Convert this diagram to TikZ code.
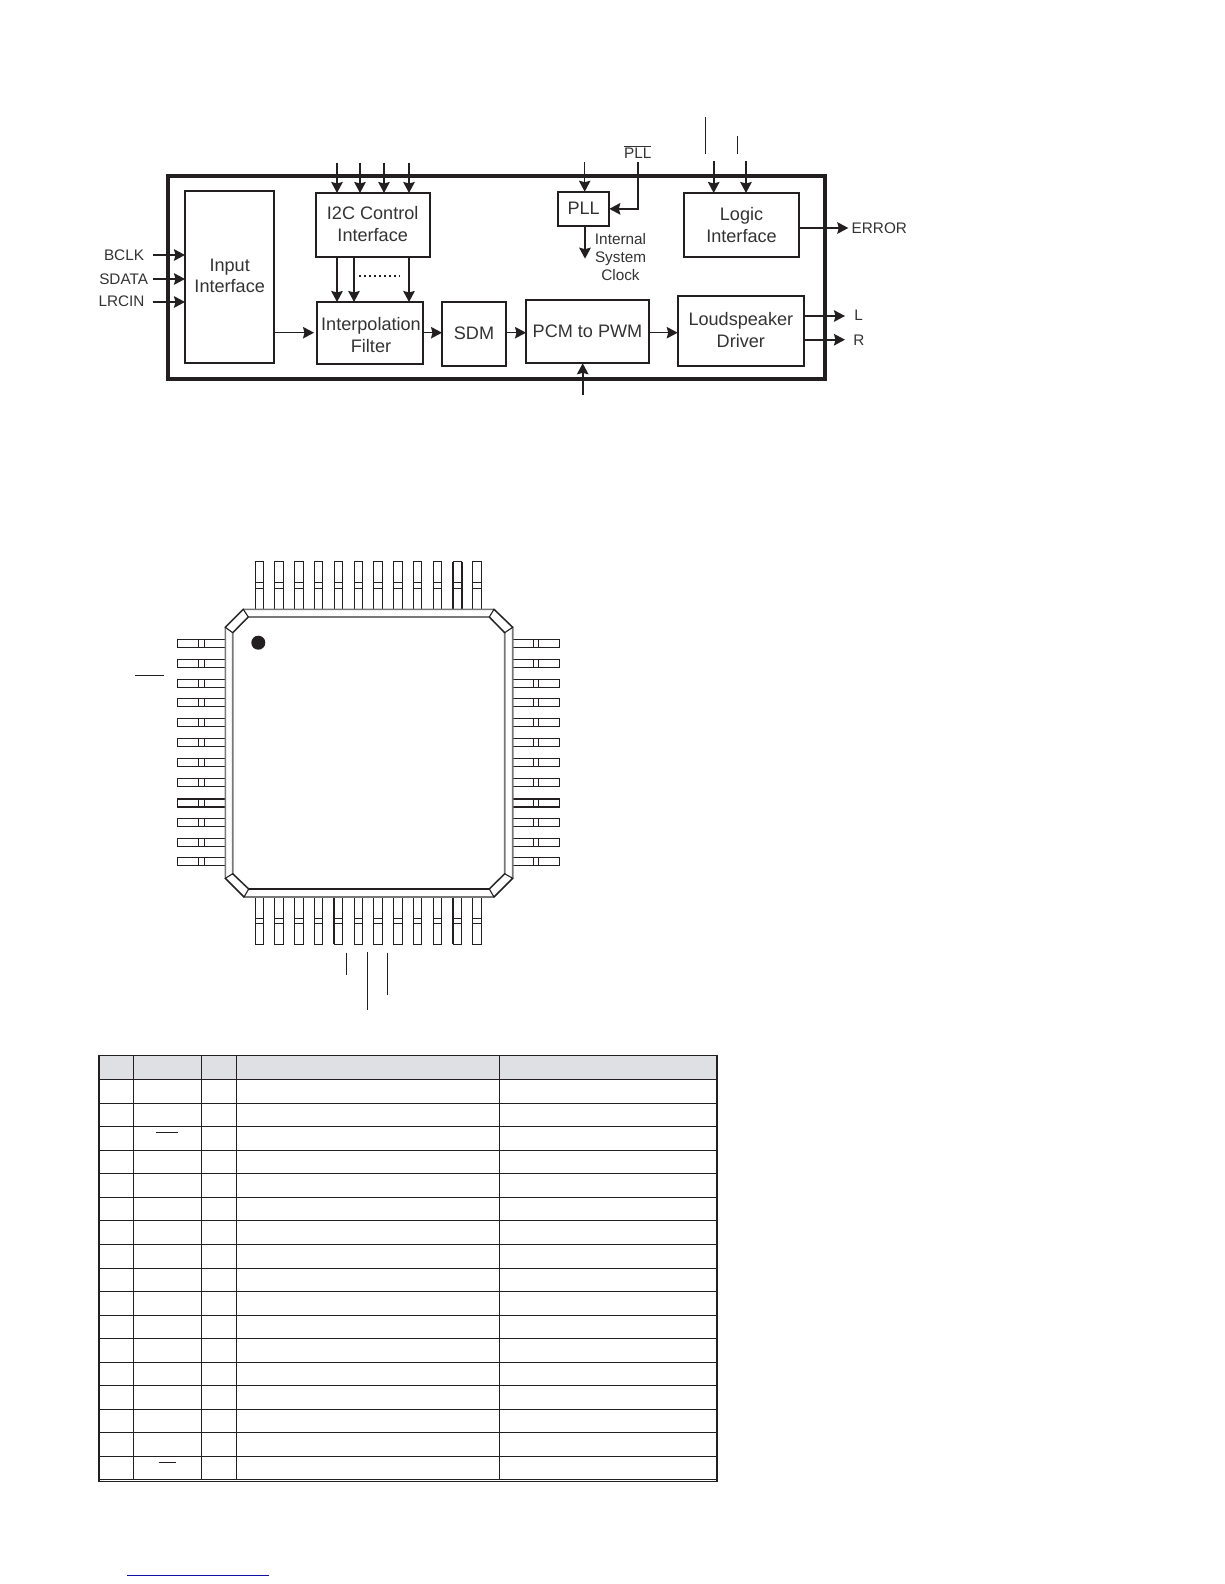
\documentclass[tikz,border=0pt]{standalone}
\usepackage{fontspec}
\setmainfont{Liberation Sans}
\usetikzlibrary{arrows.meta}
\definecolor{ink}{HTML}{231F20}
\definecolor{txt}{HTML}{333333}
\definecolor{pkg}{HTML}{777777}
\definecolor{headfill}{HTML}{DFE0E3}
\definecolor{linkblue}{HTML}{1010A0}
\tikzset{
  x=1pt,y=-1pt,
  box/.style={draw=ink,line width=1.8pt,inner sep=0pt,outer sep=0pt,align=center,text=txt,
    font=\fontsize{18.1}{21.7}\selectfont},
  boxtext/.style={inner sep=0pt,outer sep=0pt,align=center,text=txt,
    font=\fontsize{18.1}{21.7}\selectfont},
  small/.style={inner sep=0pt,outer sep=0pt,align=center,text=txt,font=\fontsize{15.3}{18}\selectfont},
  arrT/.style={draw=ink,line width=1.9pt,-{Stealth[length=11pt,width=11.5pt,inset=1.5pt]}},
  arrN/.style={draw=ink,line width=1.2pt,-{Stealth[length=11pt,width=11.5pt,inset=1.5pt]}},
  plain/.style={draw=ink,line width=1.2pt},
  pin/.style={draw=ink,line width=1pt,fill=white},
  grid/.style={draw=ink,line width=1.2pt},
}
\begin{document}
\begin{tikzpicture}
\useasboundingbox (0,0) rectangle (1224,1584);
\fill[white] (0,0) rectangle (1224,1584);

% ---------- block diagram ----------
\node[draw=ink,line width=3.8pt,inner sep=0pt,outer sep=0pt,minimum width=657pt,minimum height=203.3pt] (chip) at (496.5,277.65) {};
\node[box,minimum width=89pt,minimum height=171.8pt] (input) at (229.5,277) {};
\node[boxtext] (inputtext) at (229.7,275.8) {Input\\Interface};
\node[box,minimum width=114.3pt,minimum height=64pt] (i2c) at (372.85,225) {};
\node[boxtext] (i2ctext) at (372.7,224) {I2C Control\\Interface};
\node[box,minimum width=106pt,minimum height=62pt] (interp) at (370,333) {};
\node[boxtext] (interptext) at (371,335) {Interpolation\\Filter};
\node[box,minimum width=64pt,minimum height=64pt] (sdm) at (474,334) {};
\node[boxtext] (sdmtext) at (474,333) {SDM};
\node[box,minimum width=123pt,minimum height=63.3pt] (pcm) at (587.5,331.65) {PCM to PWM};
\node[box,minimum width=126.3pt,minimum height=70pt] (ls) at (740.85,331) {};
\node[boxtext] (lstext) at (740.85,330) {Loudspeaker\\Driver};
\node[box,minimum width=115pt,minimum height=64pt] (logic) at (741.5,225) {Logic\\Interface};
\node[box,minimum width=51.3pt,minimum height=34.3pt] (pll) at (583.65,208.85) {};
\node[boxtext] (plltext) at (583.65,207.8) {PLL};

\node[small,anchor=east] (bclk) at (144,255) {BCLK};
\node[small,anchor=east] (sdata) at (148,279) {SDATA};
\node[small,anchor=east] (lrcin) at (144.5,301.5) {LRCIN};
\node[small,anchor=west] (err) at (851.7,228) {ERROR};
\node[small,anchor=west] (lout) at (854.3,315.5) {L};
\node[small,anchor=west] (rout) at (853.3,340) {R};
\node[small] (clk) at (620.5,257) {Internal\\System\\Clock};
\node[small,anchor=base] (pllbar) at (637.7,158) {$\overline{\mbox{PLL}}$};

\coordinate (a1) at (152.7,255);
\coordinate (a2) at (152.7,279);
\coordinate (a3) at (152.7,302);
\draw[arrT] (a1) -- (a1 -| input.west);
\draw[arrT] (a2) -- (a2 -| input.west);
\draw[arrT] (a3) -- (a3 -| input.west);

\foreach \n/\xx in {c1/337,c2/360,c3/384,c4/409}{
  \coordinate (\n) at (\xx,162.7);
  \draw[arrT] (\n) -- (\n |- i2c.north);
}
\foreach \n/\xx in {d1/337,d2/354,d3/409}{
  \coordinate (\n) at (\xx,257);
  \draw[arrT] (\n) -- (\n |- interp.north);
}
\coordinate (dotsa) at (359,276);
\coordinate (dotsb) at (400,276);
\draw[ink,line width=1.4pt,dash pattern=on 1.5pt off 3.5pt] (dotsa) -- (dotsb);

\coordinate (m1) at (274,332.7);
\coordinate (m1end) at (314,332.7);
\draw[arrN] (m1) -- (m1end);
\draw[arrN] (interp.east |- m1) -- (sdm.west |- m1);
\draw[arrN] (sdm.east |- m1) -- (pcm.west |- m1);
\draw[arrN] (pcm.east |- m1) -- (ls.west |- m1);

\coordinate (pwmin) at (582.7,394.7);
\draw[arrT] (pwmin) -- (pwmin |- pcm.south);

\coordinate (pllin) at (584.7,162);
\draw[arrN] (pllin) -- (pllin |- pll.north);
\coordinate (pllb) at (638,162);
\draw[arrT] (pllb) -- (pllb |- pll.east) -- (pll.east);
\coordinate (clkend) at (585,258.7);
\draw[arrT] (clkend |- pll.south) -- (clkend);

\foreach \n/\xx in {l1/713.7,l2/746}{
  \coordinate (\n) at (\xx,161);
  \draw[arrT] (\n) -- (\n |- logic.north);
}
\coordinate (t1a) at (705.3,117.3);
\coordinate (t1b) at (705.3,154);
\coordinate (t2a) at (737.3,136);
\coordinate (t2b) at (737.3,154.3);
\draw[plain] (t1a) -- (t1b);
\draw[plain] (t2a) -- (t2b);

\coordinate (errend) at (848.3,228);
\draw[arrT] (logic.east |- errend) -- (errend);
\coordinate (lend) at (845,316);
\coordinate (rend) at (845,339.7);
\draw[arrT] (ls.east |- lend) -- (lend);
\draw[arrT] (ls.east |- rend) -- (rend);

% ---------- QFP package ----------
\foreach \i in {0,...,11}{
  \pgfmathsetmacro{\px}{259.3+19.8*\i}
  \pgfmathsetmacro{\py}{643.3+19.88*\i}
  % top
  \draw[pin] (\px-4.2,561.7) rectangle (\px+4.2,609.3);
  \draw[ink,line width=1pt] (\px-4.2,582.7) -- (\px+4.2,582.7) (\px-4.2,588.3) -- (\px+4.2,588.3);
  % bottom
  \draw[pin] (\px-4.2,897) rectangle (\px+4.2,944.3);
  \draw[ink,line width=1pt] (\px-4.2,918) -- (\px+4.2,918) (\px-4.2,923.3) -- (\px+4.2,923.3);
  % left
  \draw[pin] (177.3,\py-4) rectangle (225.3,\py+4);
  \draw[ink,line width=1pt] (198.7,\py-4) -- (198.7,\py+4) (204.3,\py-4) -- (204.3,\py+4);
  % right
  \draw[pin] (512.7,\py-4) rectangle (559.7,\py+4);
  \draw[ink,line width=1pt] (533.3,\py-4) -- (533.3,\py+4) (538.7,\py-4) -- (538.7,\py+4);
}
% heavier pin edges
\draw[ink,line width=2pt] (177.3,798.5) -- (225.3,798.5) (177.3,806.5) -- (225.3,806.5);
\draw[ink,line width=2pt] (512.7,798.5) -- (559.7,798.5) (512.7,806.5) -- (559.7,806.5);
\draw[ink,line width=2pt] (334.4,897) -- (334.4,944.3);
\draw[ink,line width=2pt] (453.2,897) -- (453.2,944.3) (453.2,561.7) -- (453.2,609.3) (461.6,561.7) -- (461.6,609.3);

% body
\draw[pkg,line width=1.6pt,fill=white]
  (243.3,609.3) -- (494,609.3) -- (512.7,627.3) -- (512.7,878.3) -- (494,897) -- (244,897) -- (225.3,878.3) -- (225.3,627.3) -- cycle;
\draw[pkg,line width=1.6pt]
  (248.3,617) -- (489.3,617) -- (504.7,632.7) -- (504.7,873.7) -- (489.3,889) -- (248.7,889) -- (232.7,873.7) -- (232.7,632.7) -- cycle;
\draw[ink,line width=1.1pt] (243.3,609.3) -- (248.3,617) -- (232.7,632.7) -- (225.3,627.3) -- cycle;
\draw[ink,line width=1.1pt] (494,609.3) -- (489.3,617) -- (504.7,632.7) -- (512.7,627.3) -- cycle;
\draw[ink,line width=1.1pt] (225.3,878.3) -- (232.7,873.7) -- (248.7,889) -- (244,897) -- cycle;
\draw[ink,line width=1.1pt] (494,897) -- (489.3,889) -- (504.7,873.7) -- (512.7,878.3) -- cycle;
\draw[ink,line width=1.2pt] (248.7,889) -- (489.3,889);
\fill[ink] (258.3,642.7) circle (7);

\draw[plain] (135,675.3) -- (164,675.3);
\draw[plain] (346.3,952.7) -- (346.3,975.3);
\draw[plain] (367.3,952) -- (367.3,1010);
\draw[plain] (387.3,952.7) -- (387.3,995);

% ---------- table ----------
\fill[headfill] (99,1055.7) rectangle (717,1079.3);
\foreach \i in {0,...,17}{
  \pgfmathsetmacro{\ry}{round(1079.3+23.53*\i)+0.5}
  \draw[grid] (99,\ry) -- (717,\ry);
}
\draw[grid] (99,1055.5) -- (717,1055.5);
\draw[grid] (99,1481.5) -- (717,1481.5);
\foreach \xx in {133.5,201.5,236.5,499.5}{
  \draw[grid] (\xx,1055.5) -- (\xx,1479.5);
}
\draw[ink,line width=2.4pt] (99,1055) -- (99,1482.2);
\draw[ink,line width=1.6pt] (717,1055) -- (717,1482.2);
\draw[plain] (156,1132.3) -- (178,1132.3);
\draw[plain] (158.7,1462.3) -- (175.7,1462.3);

\draw[linkblue,line width=1.3pt] (127,1575.3) -- (269,1575.3);
\end{tikzpicture}
\end{document}
